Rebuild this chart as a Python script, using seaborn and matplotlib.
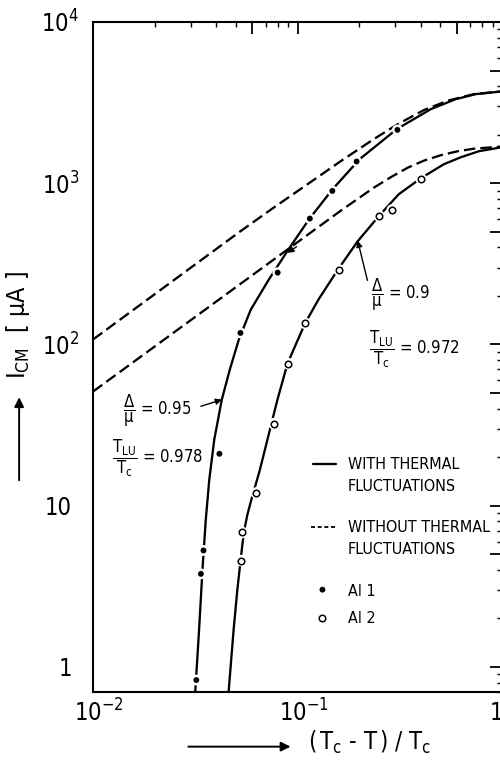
import matplotlib
matplotlib.use("Agg")
import matplotlib.pyplot as plt
import matplotlib.font_manager as fm
import matplotlib.transforms as mtrans
from matplotlib.ticker import LogLocator, NullFormatter
import seaborn as sns

# ---- measured critical currents (reduced temperature t = (Tc - T)/Tc, I in uA)
t_al1 = [0.0320, 0.0337, 0.0347, 0.0415, 0.0526, 0.080, 0.1149, 0.148, 0.1945, 0.308]
i_al1 = [0.83, 3.78, 5.28, 21.0, 118, 279, 604, 896, 1364, 2143]

t_al2 = [0.0530, 0.0536, 0.0629, 0.0766, 0.0897, 0.1094, 0.1594, 0.2503, 0.291, 0.401]
i_al2 = [4.57, 6.83, 12.0, 32.3, 76.2, 135, 290, 627, 683, 1069]

# ---- theory with thermal fluctuations
t_fl1 = [0.03162, 0.03301, 0.03430, 0.03560, 0.03703, 0.03917, 0.04265, 0.04668,
         0.05166, 0.05916, 0.07249, 0.09035, 0.1139, 0.1484, 0.2013, 0.3057,
         0.4487, 0.5949, 0.7456, 1.0]
i_fl1 = [0.70, 1.697, 4.005, 8.18, 14.50, 25.70, 45.54, 69.96,
         107.4, 165.0, 253.3, 389.1, 597.6, 917.8, 1410, 2165,
         2882, 3324, 3571, 3712]

t_fl2 = [0.04603, 0.04870, 0.05079, 0.05272, 0.05374, 0.05497, 0.05686, 0.05948,
         0.06550, 0.07127, 0.07456, 0.07980, 0.08933, 0.1088, 0.1267, 0.1579,
         0.1968, 0.2494, 0.3127, 0.4009, 0.5195, 0.6295, 0.7714, 1.0]
i_fl2 = [0.70, 1.697, 3.008, 4.619, 5.725, 7.096, 8.794, 10.90,
         16.74, 25.70, 32.31, 45.54, 76.21, 135.0, 190.3, 292.3,
         436.3, 623.7, 854.7, 1074, 1312, 1450, 1580, 1673]

# ---- theory without thermal fluctuations
t_nf1 = [0.01, 0.05254, 0.07628, 0.1119, 0.1625, 0.2358, 0.3092, 0.4146, 0.5436,
         0.7291, 1.0]
i_nf1 = [107.4, 503.3, 704.4, 985.8, 1369, 1876, 2325, 2841, 3253, 3571, 3712]

t_nf2 = [0.01, 0.09240, 0.1625, 0.2358, 0.2858, 0.3461, 0.4146, 0.5023, 0.6086,
         0.7291, 1.0]
i_nf2 = [51.07, 400.5, 674.8, 937.6, 1090, 1249, 1380, 1493, 1580, 1638, 1690]

x_ticks = [0.01, 0.06, 0.1, 0.6, 1.0]
x_ticklabels = [r"$10^{-2}$", "", r"$10^{-1}$", "", r"$10^{0}$"]
y_ticks = [1, 5, 10, 50, 100, 500, 1000, 5000, 10000]
y_ticklabels = ["1", "", "10", "", r"$10^{2}$", "", r"$10^{3}$", "", r"$10^{4}$"]

sns.set_style("white")
names = {f.name for f in fm.fontManager.ttflist}
base = "Liberation Sans Narrow" if "Liberation Sans Narrow" in names else "DejaVu Sans"
plt.rcParams.update({
    "font.family": [base, "DejaVu Sans"],
    "font.stretch": "condensed",
    "mathtext.fontset": "custom",
    "mathtext.rm": base,
    "mathtext.it": base + ":italic",
    "mathtext.bf": base + ":bold",
    "mathtext.sf": base,
    "mathtext.default": "regular",
    "axes.edgecolor": "black",
    "axes.linewidth": 1.5,
    "text.color": "black",
})

fig = plt.figure(figsize=(5, 7.61), dpi=100)
ax = fig.add_axes([0.186, 0.0907, 0.818, 0.8804])
ax.set_xscale("log")
ax.set_yscale("log")

LW = 1.65
dash = (0, (5, 2.2))

sns.lineplot(x=t_nf1, y=i_nf1, ax=ax, color="black", lw=LW, linestyle=dash,
             sort=False, estimator=None, zorder=2)
sns.lineplot(x=t_nf2, y=i_nf2, ax=ax, color="black", lw=LW, linestyle=dash,
             sort=False, estimator=None, zorder=2)
sns.lineplot(x=t_fl1, y=i_fl1, ax=ax, color="black", lw=LW,
             sort=False, estimator=None, zorder=2)
sns.lineplot(x=t_fl2, y=i_fl2, ax=ax, color="black", lw=LW,
             sort=False, estimator=None, zorder=2)

# white halo around each point interrupts the curve, then the marker itself
sns.scatterplot(x=t_al1, y=i_al1, ax=ax, s=60, color="white", edgecolor="none", zorder=3)
sns.scatterplot(x=t_al1, y=i_al1, ax=ax, s=18, color="black", edgecolor="none", zorder=4)
sns.scatterplot(x=t_al2, y=i_al2, ax=ax, s=70, color="white", edgecolor="none", zorder=3)
sns.scatterplot(x=t_al2, y=i_al2, ax=ax, s=22, color="white", edgecolor="black",
                linewidth=1.1, zorder=4)

ax.set_xlim(0.01, 1.0)
ax.set_ylim(0.7, 1e4)

ax.set_xticks(x_ticks, x_ticklabels)
ax.set_yticks(y_ticks, y_ticklabels)
ax.xaxis.set_minor_locator(LogLocator(base=10, subs=[2, 3, 4, 5, 7, 8, 9], numticks=20))
ax.yaxis.set_minor_locator(LogLocator(base=10, subs=[2, 3, 4, 6, 7, 8, 9], numticks=20))
ax.xaxis.set_minor_formatter(NullFormatter())
ax.yaxis.set_minor_formatter(NullFormatter())
ax.tick_params(which="both", direction="in", top=True, right=True, colors="black")
ax.tick_params(which="major", length=8.6, width=1.3)
ax.tick_params(which="minor", length=3.6, width=1.0)
ax.tick_params(axis="y", which="major", labelsize=17, pad=15)
ax.tick_params(axis="x", which="major", labelsize=17, pad=5)
for s in ax.spines.values():
    s.set_visible(True)
    s.set_color("black")
    s.set_linewidth(1.5)

# keep the mantissa "10" aligned with the tick; the exponent hangs to the right
for lab in ax.get_yticklabels():
    if "^" in lab.get_text():
        lab.set_transform(lab.get_transform() +
                          mtrans.ScaledTranslation(0.07, 0, fig.dpi_scale_trans))
for lab in ax.get_xticklabels():
    if "^" in lab.get_text():
        lab.set_transform(lab.get_transform() +
                          mtrans.ScaledTranslation(0.06, 0, fig.dpi_scale_trans))

# axis titles with arrows
ax.text(-0.184, 0.548, r"I$_{CM}$  [ $\mu$A ]", transform=ax.transAxes,
        rotation=90, ha="center", va="center", fontsize=18)
ax.annotate("", xy=(-0.1806, 0.440), xytext=(-0.1806, 0.316),
            xycoords="axes fraction", textcoords="axes fraction",
            arrowprops=dict(arrowstyle="-|>", lw=1.4, color="black",
                            mutation_scale=14, shrinkA=0, shrinkB=0),
            annotation_clip=False)
ax.text(0.5245, -0.0866, r"($\,$T$_c$ - T$\,$) / T$_c$", transform=ax.transAxes,
        ha="left", va="baseline", fontsize=17)
ax.annotate("", xy=(0.483, -0.0816), xytext=(0.233, -0.0816),
            xycoords="axes fraction", textcoords="axes fraction",
            arrowprops=dict(arrowstyle="-|>", lw=1.4, color="black",
                            mutation_scale=14, shrinkA=0, shrinkB=0),
            annotation_clip=False)

# curve annotations
fs = 12
ax.text(0.679, 0.5925, r"$\dfrac{\Delta}{\mu}$ = 0.9", transform=ax.transAxes,
        ha="left", va="center", fontsize=fs)
ax.text(0.674, 0.512, r"$\dfrac{T_{LU}}{T_c}$ = 0.972", transform=ax.transAxes,
        ha="left", va="center", fontsize=fs)
ax.text(0.0735, 0.419, r"$\dfrac{\Delta}{\mu}$ = 0.95", transform=ax.transAxes,
        ha="left", va="center", fontsize=fs)
ax.text(0.0466, 0.348, r"$\dfrac{T_{LU}}{T_c}$ = 0.978", transform=ax.transAxes,
        ha="left", va="center", fontsize=fs)

arrow = dict(arrowstyle="-|>", lw=1.0, color="black", mutation_scale=9,
             shrinkA=0, shrinkB=0)
ax.annotate("", xy=(0.0427, 45.5), xytext=(0.0337, 41.4), arrowprops=arrow)
ax.annotate("", xy=(0.197, 440), xytext=(0.2197, 250), arrowprops=arrow)
ax.annotate("", xy=(0.0893, 370), xytext=(0.0989, 404), arrowprops=arrow)

# legend
tr = ax.transAxes
lfs = 11.5
ax.plot([0.537, 0.593], [0.340, 0.340], transform=tr, color="black", lw=LW)
ax.plot([0.534, 0.593], [0.246, 0.246], transform=tr, color="black", lw=1.3,
        linestyle=(0, (2.2, 1.5)))
ax.scatter([0.561], [0.1527], transform=tr, s=18, color="black", edgecolor="none")
ax.scatter([0.561], [0.110], transform=tr, s=22, facecolor="white",
           edgecolor="black", linewidth=1.1)
lx = 0.6225
ax.text(lx, 0.3328, "WITH THERMAL", transform=tr, fontsize=lfs, va="baseline")
ax.text(lx, 0.300, "FLUCTUATIONS", transform=tr, fontsize=lfs, va="baseline")
ax.text(lx, 0.2388, "WITHOUT THERMAL", transform=tr, fontsize=lfs, va="baseline")
ax.text(lx, 0.206, "FLUCTUATIONS", transform=tr, fontsize=lfs, va="baseline")
ax.text(lx, 0.1433, "Al 1", transform=tr, fontsize=lfs, va="baseline")
ax.text(lx, 0.103, "Al 2", transform=tr, fontsize=lfs, va="baseline")

fig.savefig("out.png", dpi=100)
